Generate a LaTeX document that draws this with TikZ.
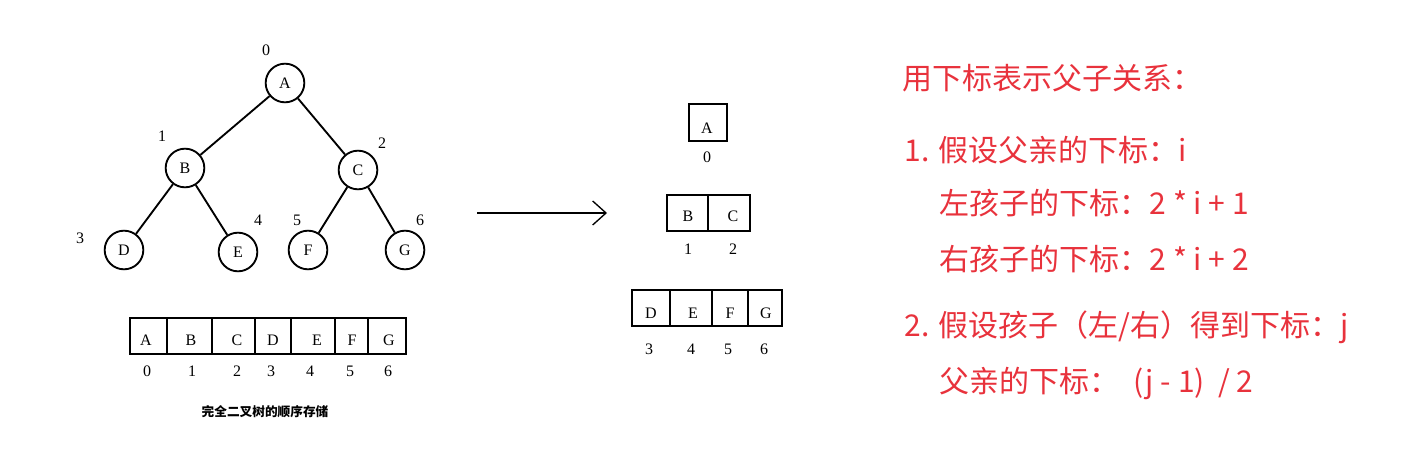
\documentclass[tikz,border=0pt]{standalone}
\usetikzlibrary{arrows.meta}
\usepackage{fontspec}
\newfontfamily\cjk{Noto Sans CJK SC}
\newfontfamily\serif{Liberation Serif}
\definecolor{txtred}{RGB}{232,50,60}
\begin{document}
\begin{tikzpicture}[x=0.75pt,y=-0.75pt,
  tn/.style={circle,draw,line width=1.4pt,minimum size=29pt,inner sep=0pt,font=\serif\fontsize{12}{12}\selectfont},
  lab/.style={font=\serif\fontsize{12}{12}\selectfont},
  edge/.style={line width=1.4pt},
  red/.style={text=txtred,font=\cjk\fontsize{22.5}{22.5}\selectfont,anchor=west}]
\useasboundingbox (0,0) rectangle (1414,452);
% tree
\node[tn] (A) at (285,83) {A};
\node[tn] (B) at (185,168) {B};
\node[tn] (C) at (358,170) {C};
\node[tn] (D) at (124,250) {D};
\node[tn] (E) at (238,252) {E};
\node[tn] (F) at (308,250) {F};
\node[tn] (G) at (405,250) {G};
\draw[edge] (A)--(B); \draw[edge] (A)--(C);
\draw[edge] (B)--(D); \draw[edge] (B)--(E);
\draw[edge] (C)--(F); \draw[edge] (C)--(G);
\node[lab] (l0) at (266,50) {0};
\node[lab] (l1) at (162,136) {1};
\node[lab] (l2) at (382,143) {2};
\node[lab] (l3) at (80,238) {3};
\node[lab] (l4) at (258,220) {4};
\node[lab] (l5) at (297,220) {5};
\node[lab] (l6) at (420,220) {6};
% array
\draw[line width=1.4pt] (130,318) rectangle (406,354);
\foreach \x in {167,212,255,291,335,368} \draw[line width=1.4pt] (\x,318)--(\x,354);
\foreach \t/\x/\i/\ix in {A/146/0/147,B/191/1/192,C/237/2/237,D/273/3/271,E/317/4/310,F/352/5/350,G/389/6/388}{
  \node[lab] (a\t) at (\x,340) {\t};
  \node[lab] (ai\t) at (\ix,371) {\i};
}
\node[font=\cjk\bfseries\fontsize{9.5}{9.5}\selectfont] (cap) at (265,412) {完全二叉树的顺序存储};
% arrow
\coordinate (s) at (477,213); \coordinate (t) at (607,213);
\draw[line width=1pt,-{Straight Barb[length=10pt,width=18pt]}] (s)--(t);
% right arrays
\draw[line width=1.4pt] (689,104) rectangle (727,141);
\node[lab] (rA) at (707,128) {A};
\node[lab] (r0) at (707,157) {0};
\draw[line width=1.4pt] (667,195) rectangle (750,231);
\draw[line width=1.4pt] (708,195)--(708,231);
\node[lab] (rB) at (688,216) {B}; \node[lab] (rC) at (733,216) {C};
\node[lab] (r1) at (688,249) {1}; \node[lab] (r2) at (733,249) {2};
\draw[line width=1.4pt] (632,290) rectangle (782,326);
\foreach \x in {670,712,748} \draw[line width=1.4pt] (\x,290)--(\x,326);
\foreach \t/\x/\i in {D/651/3,E/693/4,F/730/5,G/766/6}{
  \node[lab] (r\t) at (\x,313) {\t};
  \node[lab] (ri\t) at (\x-2,349) {\i};
}
% text
\node[red] (t1) at (898,78) {用下标表示父子关系：};
\node[red] (t2) at (900,150) {1. 假设父亲的下标：i};
\node[red] (t3) at (935,203) {左孩子的下标：2 * i + 1};
\node[red] (t4) at (935,259) {右孩子的下标：2 * i + 2};
\node[red] (t5) at (900,327) {2. 假设孩子（左/右）得到下标：j};
\node[red] (t6) at (935,383) {父亲的下标：\ \ (j - 1)\ \ / 2};
\end{tikzpicture}
\end{document}
